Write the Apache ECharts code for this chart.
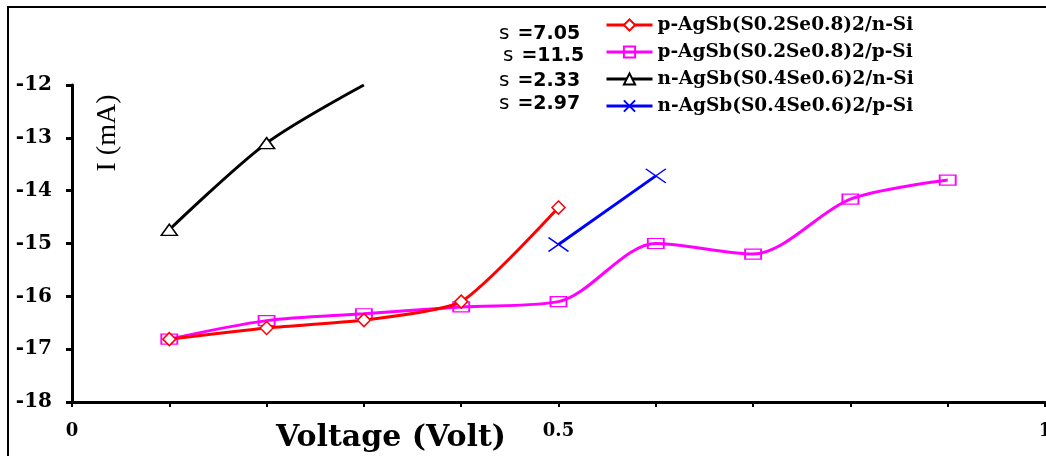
<!DOCTYPE html>
<html>
<head>
<meta charset="utf-8">
<script src="https://cdn.jsdelivr.net/npm/echarts@6/dist/echarts.min.js"></script>
<style>
html,body{margin:0;padding:0;background:#fff;overflow:hidden;}
#chart{width:1046px;height:456px;}
</style>
</head>
<body>
<div id="chart"></div>
<script>
// ---- data ----
const seriesNames = [
  'p-AgSb(S0.2Se0.8)2/n-Si',
  'p-AgSb(S0.2Se0.8)2/p-Si',
  'n-AgSb(S0.4Se0.6)2/n-Si',
  'n-AgSb(S0.4Se0.6)2/p-Si'
];
const voltRedPN = [0.1, 0.2, 0.3, 0.4, 0.5];
const currRedPN = [-16.81, -16.6, -16.45, -16.1, -14.32];
const voltPinkPP = [0.1, 0.2, 0.3, 0.4, 0.5, 0.6, 0.7, 0.8, 0.9];
const currPinkPP = [-16.81, -16.46, -16.33, -16.2, -16.1, -15.0, -15.2, -14.16, -13.8];
const voltBlackNN = [0.1, 0.2, 0.3];
const currBlackNN = [-14.74, -13.1, -12.0];
const voltBlueNP = [0.5, 0.6];
const currBlueNP = [-15.02, -13.72];
const sigmaValues = ['7.05', '11.5', '2.33', '2.97'];
const yTicks = { min: -18, max: -12, step: 1 };
const xTicks = { min: 0, max: 1, step: 0.1, labelled: [0, 0.5, 1] };

const pairs = (xs, ys) => xs.map((x, i) => [x, ys[i]]);

const chart = echarts.init(document.getElementById('chart'), null, { renderer: 'canvas' });

const serifBold = { fontFamily: 'DejaVu Serif', fontWeight: 'bold', color: '#000' };

const sigmaGraphics = sigmaValues.map((v, i) => ({
  type: 'text',
  x: i === 1 ? 503 : 499,
  y: [33, 55, 80, 103][i],
  style: {
    text: '{a|s}{b|=' + v + '}',
    verticalAlign: 'middle',
    rich: {
      a: { fontFamily: 'DejaVu Sans', fontSize: 20, fontWeight: 'normal', fill: '#000', lineHeight: 22, verticalAlign: 'bottom', padding: [0, 8, 0, 0] },
      b: { fontFamily: 'DejaVu Sans', fontSize: 19, fontWeight: 'bold', fill: '#000', lineHeight: 22, verticalAlign: 'bottom' }
    }
  }
}));

const xMark = 'path://M0,0L10,10M10,0L0,10';

chart.setOption({
  animation: false,
  backgroundColor: '#fff',
  grid: { left: 72, right: 1, top: 85, bottom: 54, containLabel: false, outerBoundsMode: 'none' },
  legend: {
    orient: 'vertical',
    left: 605,
    top: 15,
    padding: 0,
    itemWidth: 46,
    itemHeight: 14,
    itemGap: 7,
    lineStyle: { width: 3 },
    textStyle: Object.assign({ fontSize: 18.5, lineHeight: 20 }, serifBold),
    data: seriesNames
  },
  xAxis: {
    type: 'value',
    min: xTicks.min,
    max: xTicks.max,
    interval: xTicks.step,
    axisLine: { show: true, onZero: false, lineStyle: { color: '#000', width: 3 } },
    axisTick: { show: true, inside: false, length: 5, lineStyle: { color: '#000', width: 2 } },
    splitLine: { show: false },
    axisLabel: {
      margin: 20,
      fontSize: 18,
      fontFamily: 'DejaVu Serif',
      fontWeight: 'bold',
      color: '#000',
      formatter: v => xTicks.labelled.some(t => Math.abs(t - v) < 1e-6) ? String(+v.toFixed(1)) : ''
    }
  },
  yAxis: {
    type: 'value',
    min: yTicks.min,
    max: yTicks.max,
    interval: yTicks.step,
    axisLine: { show: true, onZero: false, lineStyle: { color: '#000', width: 3 } },
    axisTick: { show: true, inside: false, length: 6, lineStyle: { color: '#000', width: 3 } },
    splitLine: { show: false },
    axisLabel: {
      margin: 20,
      fontSize: 20,
      fontFamily: 'DejaVu Serif',
      fontWeight: 'bold',
      color: '#000'
    }
  },
  graphic: [
    {
      type: 'polyline',
      shape: { points: [[8, 470], [8, 7], [1070, 7]] },
      style: { stroke: '#000', lineWidth: 2, fill: null },
      silent: true
    },
    {
      type: 'text',
      x: 108, y: 133,
      rotation: Math.PI / 2,
      style: {
        text: 'I (mA)',
        fontFamily: 'Liberation Serif',
        fontSize: 28,
        fill: '#000',
        align: 'center',
        verticalAlign: 'middle'
      }
    },
    {
      type: 'text',
      x: 391, y: 438,
      style: {
        text: 'Voltage (Volt)',
        fontFamily: 'DejaVu Serif',
        fontWeight: 'bold',
        fontSize: 30,
        fill: '#000',
        align: 'center',
        verticalAlign: 'middle'
      }
    }
  ].concat(sigmaGraphics),
  series: [
    {
      name: seriesNames[0],
      type: 'line',
      smooth: 0.2,
      data: pairs(voltRedPN, currRedPN),
      symbol: 'diamond',
      symbolSize: [13, 13],
      lineStyle: { color: '#ff0000', width: 3 },
      itemStyle: { color: '#fff', borderColor: '#ff0000', borderWidth: 1.5 },
      z: 4
    },
    {
      name: seriesNames[1],
      type: 'line',
      smooth: 0.3,
      data: pairs(voltPinkPP, currPinkPP),
      symbol: 'rect',
      symbolSize: [16, 10],
      lineStyle: { color: '#ff00ff', width: 3 },
      itemStyle: { color: 'rgba(255,255,255,0)', borderColor: '#ff00ff', borderWidth: 1.5 },
      z: 3
    },
    {
      name: seriesNames[2],
      type: 'line',
      smooth: 0.3,
      data: pairs(voltBlackNN, currBlackNN).map((p, i) => i < 2 ? p : { value: p, symbol: 'none' }),
      symbol: 'triangle',
      symbolSize: [16, 11],
      lineStyle: { color: '#000', width: 3 },
      itemStyle: { color: '#fff', borderColor: '#000', borderWidth: 1.5 },
      clip: false,
      z: 2
    },
    {
      name: seriesNames[3],
      type: 'line',
      data: pairs(voltBlueNP, currBlueNP),
      symbol: xMark,
      symbolSize: [20, 14],
      lineStyle: { color: '#0000ff', width: 3 },
      itemStyle: { color: '#0000ff', borderColor: '#0000ff', borderWidth: 1.5 },
      z: 5
    }
  ]
});
</script>
</body>
</html>
